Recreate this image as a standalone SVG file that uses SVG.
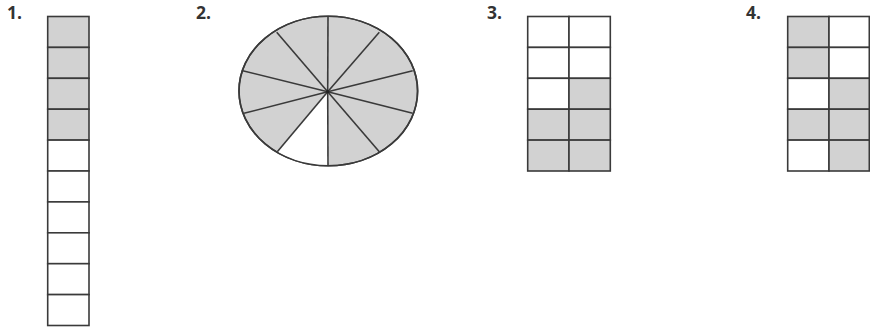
<svg xmlns="http://www.w3.org/2000/svg" width="870" height="328" viewBox="0 0 870 328">
<style>
.lbl{font-family:"Open Sans","DejaVu Sans",sans-serif;font-weight:bold;font-size:17.5px;fill:#333}
.c{stroke:#3a3a3a;stroke-width:1.6}
.g{fill:#d2d2d2}
.w{fill:#fff}
.l{stroke:#3a3a3a;stroke-width:1.6;fill:none}
</style>
<rect width="870" height="328" fill="#fff"/>
<text class="lbl" x="7" y="18.5">1.</text>
<text class="lbl" x="196" y="18.5">2.</text>
<text class="lbl" x="487" y="18.5">3.</text>
<text class="lbl" x="746" y="18.5">4.</text>

<g id="bar1">
<rect class="c g" x="47.7" y="16.5" width="41.3" height="30.9"/>
<rect class="c g" x="47.7" y="47.4" width="41.3" height="30.9"/>
<rect class="c g" x="47.7" y="78.3" width="41.3" height="30.9"/>
<rect class="c g" x="47.7" y="109.2" width="41.3" height="30.9"/>
<rect class="c w" x="47.7" y="140.1" width="41.3" height="30.9"/>
<rect class="c w" x="47.7" y="171" width="41.3" height="30.9"/>
<rect class="c w" x="47.7" y="201.9" width="41.3" height="30.9"/>
<rect class="c w" x="47.7" y="232.8" width="41.3" height="30.9"/>
<rect class="c w" x="47.7" y="263.7" width="41.3" height="30.9"/>
<rect class="c w" x="47.7" y="294.6" width="41.3" height="30.9"/>
</g>

<g id="pie2">
<ellipse class="c g" cx="328.3" cy="91" rx="89.3" ry="74.8"/>
<path d="M327.7 91.7 L277.3 151.7 A89.3 74.8 0 0 0 328.3 165.8 Z" fill="#fff"/>
<ellipse class="l" cx="328.3" cy="91" rx="89.3" ry="74.8"/>
<g class="l">
<line x1="327.7" y1="91.7" x2="328" y2="16.2"/>
<line x1="327.7" y1="91.7" x2="379.3" y2="32.3"/>
<line x1="327.7" y1="91.7" x2="412.7" y2="70.7"/>
<line x1="327.7" y1="91.7" x2="412.7" y2="113.3"/>
<line x1="327.7" y1="91.7" x2="379.3" y2="151.7"/>
<line x1="327.7" y1="91.7" x2="328" y2="165.8"/>
<line x1="327.7" y1="91.7" x2="277.3" y2="151.7"/>
<line x1="327.7" y1="91.7" x2="244" y2="113.3"/>
<line x1="327.7" y1="91.7" x2="242.7" y2="70.7"/>
<line x1="327.7" y1="91.7" x2="276.7" y2="32.3"/>
</g>
<circle cx="327.7" cy="91.7" r="1.6" fill="#222"/>
</g>

<g id="grid3">
<rect class="c w" x="527.7" y="16.5" width="41.3" height="30.9"/>
<rect class="c w" x="569" y="16.5" width="41.3" height="30.9"/>
<rect class="c w" x="527.7" y="47.4" width="41.3" height="30.9"/>
<rect class="c w" x="569" y="47.4" width="41.3" height="30.9"/>
<rect class="c w" x="527.7" y="78.3" width="41.3" height="30.9"/>
<rect class="c g" x="569" y="78.3" width="41.3" height="30.9"/>
<rect class="c g" x="527.7" y="109.2" width="41.3" height="30.9"/>
<rect class="c g" x="569" y="109.2" width="41.3" height="30.9"/>
<rect class="c g" x="527.7" y="140.1" width="41.3" height="30.9"/>
<rect class="c g" x="569" y="140.1" width="41.3" height="30.9"/>
</g>

<g id="grid4">
<rect class="c g" x="787.7" y="16.5" width="41.3" height="30.9"/>
<rect class="c w" x="829" y="16.5" width="40.3" height="30.9"/>
<rect class="c g" x="787.7" y="47.4" width="41.3" height="30.9"/>
<rect class="c w" x="829" y="47.4" width="40.3" height="30.9"/>
<rect class="c w" x="787.7" y="78.3" width="41.3" height="30.9"/>
<rect class="c g" x="829" y="78.3" width="40.3" height="30.9"/>
<rect class="c g" x="787.7" y="109.2" width="41.3" height="30.9"/>
<rect class="c g" x="829" y="109.2" width="40.3" height="30.9"/>
<rect class="c w" x="787.7" y="140.1" width="41.3" height="30.9"/>
<rect class="c g" x="829" y="140.1" width="40.3" height="30.9"/>
</g>
</svg>
